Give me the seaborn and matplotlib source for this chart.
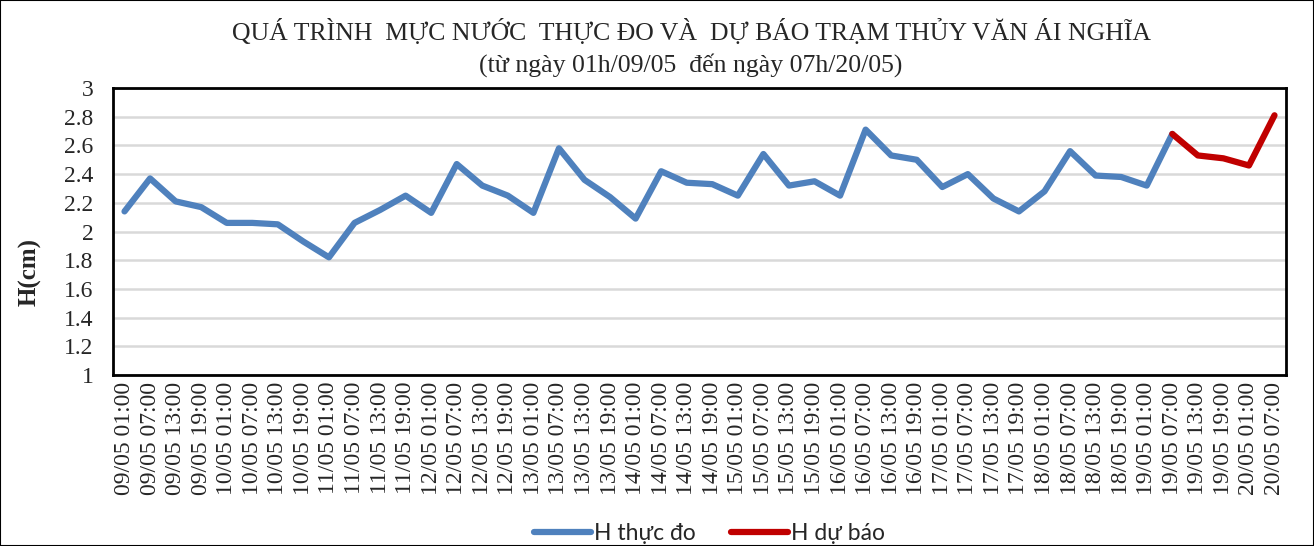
import numpy as np
import pandas as pd
import seaborn as sns
import matplotlib.pyplot as plt

# time labels, every 6 hours from 09/05 01:00 to 20/05 07:00
days = ["09/05", "10/05", "11/05", "12/05", "13/05", "14/05",
        "15/05", "16/05", "17/05", "18/05", "19/05", "20/05"]
hours = ["01:00", "07:00", "13:00", "19:00"]
labels = [d + " " + h for d in days for h in hours][:46]

# observed water level (09/05 01:00 -> 19/05 07:00)
h_obs = [2.14, 2.37, 2.21, 2.17, 2.06, 2.06, 2.05, 1.93, 1.82, 2.06,
         2.15, 2.25, 2.13, 2.47, 2.32, 2.25, 2.13, 2.58, 2.36, 2.24,
         2.09, 2.42, 2.34, 2.33, 2.25, 2.54, 2.32, 2.35, 2.25, 2.71,
         2.53, 2.50, 2.31, 2.40, 2.23, 2.14, 2.28, 2.56, 2.39, 2.38,
         2.32, 2.68]
# forecast (19/05 07:00 -> 20/05 07:00)
h_fc = [2.68, 2.53, 2.51, 2.46, 2.81]

obs = pd.DataFrame({"x": np.arange(len(h_obs)), "h": h_obs})
fc = pd.DataFrame({"x": np.arange(len(h_obs) - 1, len(h_obs) - 1 + len(h_fc)), "h": h_fc})

sns.set_style("white")
plt.rcParams['font.family'] = ['Liberation Serif', 'DejaVu Serif']

fig = plt.figure(figsize=(13.14, 5.46), dpi=100)
ax = fig.add_axes([0.086, 0.3132, 0.8927, 0.5256])

sns.lineplot(x="x", y="h", data=obs, ax=ax, color="#4f81bd", linewidth=4.5,
             label="H thực đo", solid_capstyle="round", solid_joinstyle="round")
sns.lineplot(x="x", y="h", data=fc, ax=ax, color="#c00000", linewidth=4.5,
             label="H dự báo", solid_capstyle="round", solid_joinstyle="round")

yt = np.round(np.arange(1, 3.01, 0.2), 1)
ax.set_ylim(1, 3)
ax.set_yticks(yt)
ax.set_yticklabels([f"{v:g}" for v in yt], fontsize=17)
ax.set_xlim(-0.45, len(labels) - 0.55)
ax.set_xticks(range(len(labels)))
ax.set_xticklabels(labels, rotation=90, fontsize=17)
ax.tick_params(axis="y", length=0, pad=14)
ax.tick_params(axis="x", length=0, pad=5)
ax.grid(axis="y", color="#d9d9d9", linewidth=1.8)
ax.set_axisbelow(True)
for s in ax.spines.values():
    s.set_color("black")
    s.set_linewidth(2)

ax.set_xlabel("")
ax.set_ylabel("H(cm)", fontsize=18, fontweight="bold")
ax.yaxis.set_label_coords(-0.061, 0.36)

fig.text(0.526, 0.942, "QUÁ TRÌNH  MỰC NƯỚC  THỰC ĐO VÀ  DỰ BÁO TRẠM THỦY VĂN ÁI NGHĨA",
         ha="center", va="center", fontsize=18.5)
fig.text(0.526, 0.88, "(từ ngày 01h/09/05  đến ngày 07h/20/05)",
         ha="center", va="center", fontsize=18.5)

ax.legend(loc="center", ncol=2, frameon=False, handlelength=2.5, columnspacing=1.5,
          handletextpad=0.15, prop={"family": "Lato", "size": 16.5})
leg = ax.get_legend()
leg.set_bbox_to_anchor((0.54, 0.022), transform=fig.transFigure)

# outer chart border
fig.patches.append(plt.Rectangle((0, 0), 1, 1, transform=fig.transFigure,
                                 fill=False, edgecolor="black", linewidth=1.5))

fig.savefig("out.png", dpi=100)
